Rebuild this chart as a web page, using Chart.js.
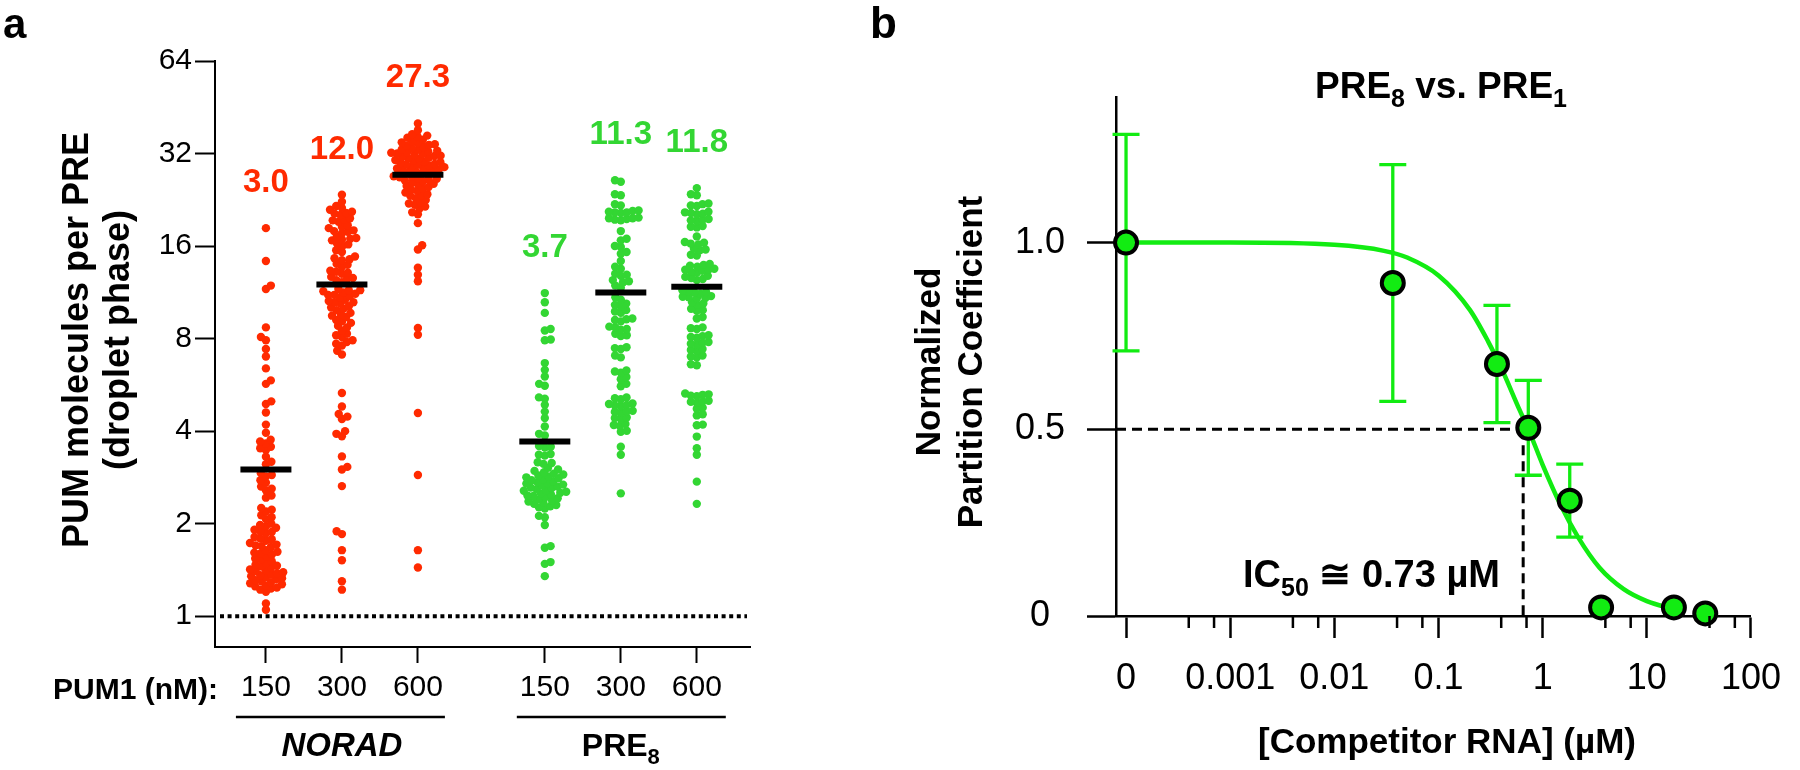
<!DOCTYPE html>
<html><head><meta charset="utf-8">
<script src="https://cdn.jsdelivr.net/npm/chart.js@4.4.1/dist/chart.umd.min.js"></script>
<style>
html,body{margin:0;padding:0;background:#fff;width:1800px;height:770px;overflow:hidden}
#ca{position:absolute;left:0;top:0}
#cb{position:absolute;left:870px;top:0}
</style></head><body>
<canvas id="ca" width="870" height="770"></canvas>
<canvas id="cb" width="930" height="770"></canvas>
<script>
// ---------------- Panel a data ----------------
const groupLabels = ['150','300','600','150','300','600'];
const groupMeans = [3.0, 12.0, 27.3, 3.7, 11.3, 11.8];
const yTicksA = [1, 2, 4, 8, 16, 32, 64];
const norad150 = [18.3,14.3,11.9,11.6,8.7,8.1,7.9,7.4,7.0,6.4,5.85,5.7,5.0,4.9,4.6,4.2,3.95,3.75,3.7,3.65,3.56,3.52,3.47,3.3,3.18,3.12,2.92,2.88,2.85,2.77,2.72,2.64,2.6,2.57,2.47,2.43,2.25,2.22,2.19,2.13,2.1,2.07,2.0,1.98,1.96,1.94,1.91,1.89,1.88,1.86,1.81,1.79,1.78,1.76,1.73,1.71,1.7,1.69,1.68,1.64,1.62,1.61,1.6,1.59,1.56,1.54,1.53,1.51,1.49,1.47,1.46,1.45,1.44,1.42,1.41,1.40,1.39,1.38,1.37,1.36,1.35,1.34,1.33,1.32,1.31,1.3,1.29,1.28,1.27,1.26,1.25,1.24,1.23,1.22,1.2,1.1,1.05];
const norad300 = [23.5,22.3,21.6,21.3,21.0,20.7,20.5,20.4,20.2,19.7,19.5,19.4,19.2,18.7,18.5,18.3,18.0,17.9,17.8,17.6,17.2,17.0,16.9,16.8,16.7,16.3,16.2,16.0,15.5,15.3,14.8,14.6,14.5,14.4,14.0,13.9,13.7,13.3,13.2,13.1,13.0,12.7,12.6,12.5,12.4,12.2,11.6,11.5,11.5,11.4,11.3,11.2,11.1,11.1,11.0,10.9,10.7,10.6,10.5,10.5,10.4,10.2,10.1,10.0,9.9,9.7,9.6,9.5,9.4,9.2,9.1,9.0,8.8,8.7,8.5,8.3,8.2,8.1,7.9,7.8,7.7,7.6,7.3,7.1,5.32,4.81,4.55,4.46,4.38,4.0,3.92,3.85,3.31,3.06,3.0,2.65,1.89,1.85,1.64,1.52,1.3,1.22];
const norad600 = [40.1,38.1,37.0,36.6,36.3,36.0,35.5,35.0,34.8,34.6,34.3,34.1,33.9,33.6,33.3,33.0,32.9,32.7,32.5,32.3,32.2,32.0,31.9,31.7,31.5,31.4,31.2,31.0,30.9,30.8,30.5,30.3,30.1,30.0,29.8,29.6,29.5,29.4,29.2,29.0,28.9,28.8,28.6,28.4,28.3,28.2,28.0,27.9,27.8,27.6,27.0,26.9,26.8,26.6,26.5,26.4,26.2,26.0,25.7,25.5,25.4,25.1,24.9,24.6,24.4,24.2,23.9,23.6,23.4,23.3,22.9,22.6,22.2,22.0,21.8,21.5,21.2,20.6,20.3,19.0,16.1,15.6,13.6,12.9,12.3,8.66,8.23,4.58,2.88,1.64,1.44];
const pre150 = [11.25,10.5,9.7,8.6,8.5,7.95,7.9,6.66,6.33,6.02,5.7,5.62,5.15,5.1,4.87,4.63,4.41,4.14,3.92,3.87,3.58,3.56,3.54,3.37,3.35,3.33,3.17,3.15,3.13,3.04,3.0,2.97,2.94,2.91,2.89,2.87,2.85,2.83,2.81,2.79,2.77,2.75,2.73,2.71,2.70,2.68,2.66,2.64,2.62,2.61,2.59,2.57,2.56,2.54,2.52,2.51,2.49,2.47,2.46,2.44,2.42,2.40,2.38,2.36,2.34,2.32,2.30,2.28,2.26,2.24,2.12,2.1,1.98,1.69,1.67,1.5,1.48,1.35];
const pre300 = [26.2,25.9,23.6,23.4,21.9,21.7,20.9,20.8,20.7,20.6,20.6,20.5,19.8,19.7,19.7,19.6,19.5,19.4,17.9,16.9,16.7,16.0,15.9,15.3,15.1,14.3,13.7,13.5,13.0,12.9,12.8,12.4,12.3,12.2,11.9,11.7,10.9,10.7,10.4,10.3,10.2,9.9,9.8,9.7,9.3,9.25,9.2,9.1,8.75,8.7,8.6,8.55,8.3,8.2,8.15,7.5,7.45,7.4,7.05,6.95,6.3,6.25,6.2,6.0,5.9,5.7,5.6,5.15,5.12,5.08,4.92,4.9,4.87,4.85,4.83,4.66,4.64,4.62,4.6,4.43,4.41,4.39,4.22,4.19,4.16,4.01,3.98,3.56,3.35,2.51];
const pre600 = [24.7,23.6,23.4,22.0,21.9,21.7,21.6,20.7,20.6,20.5,20.4,20.3,19.6,19.5,19.4,19.3,18.6,18.5,18.4,17.2,16.5,16.4,16.3,16.2,15.7,15.6,15.5,15.0,14.9,14.0,13.9,13.8,13.7,13.5,13.4,13.4,13.3,13.2,13.1,12.8,12.7,12.6,12.5,12.4,11.5,11.4,11.35,11.3,11.2,11.0,10.95,10.9,10.85,10.8,10.5,10.4,10.3,10.0,9.9,9.85,9.4,9.3,8.7,8.65,8.6,8.2,8.15,8.1,8.05,7.8,7.75,7.7,7.65,7.4,7.35,7.3,7.05,7.0,6.95,6.6,6.55,5.3,5.27,5.25,5.22,5.2,5.02,5.0,4.98,4.95,4.77,4.73,4.54,4.5,4.2,4.18,3.84,3.52,3.35,2.74,2.32];

// ---------------- Panel b data ----------------
const competitorConc = [0, 0.0364, 0.364, 0.728, 1.82, 3.64, 18.2, 36.4];
const normPartition = [1.0, 0.892, 0.675, 0.504, 0.309, 0.023, 0.023, 0.007];
const sdPartition = [0.29, 0.317, 0.157, 0.127, 0.098, 0, 0, 0];
const fitConc = [0.0001, 0.001, 0.01, 0.03, 0.05, 0.1, 0.2, 0.3, 0.4, 0.6, 0.73, 1.0, 1.5, 2.2, 3.5, 6, 10, 18.2];
const fitValue = [1.0, 1.0, 0.994, 0.978, 0.96, 0.912, 0.82, 0.735, 0.665, 0.552, 0.5, 0.405, 0.295, 0.21, 0.13, 0.072, 0.04, 0.018];
const xTickValsB = [0.0001, 0.001, 0.01, 0.1, 1, 10, 100];
const xTickLabelsB = ['0', '0.001', '0.01', '0.1', '1', '10', '100'];
const yTickValsB = [0, 0.5, 1.0];
const yTickLabelsB = ['0', '0.5', '1.0'];
const ic50Label = '0.73';
const ic50LineX = 0.65;
const zeroPlottedAt = 0.0001;

// ---------------- styles ----------------
const FONT = "'Liberation Sans', Arial, Helvetica, sans-serif";
const RED = '#ff2a00', GREEN = '#33d633', LIME = '#12ec12';
const groups = [norad150, norad300, norad600, pre150, pre300, pre600];
const groupColors = [RED, RED, RED, GREEN, GREEN, GREEN];
const groupPos = groups.map((g, i) => i + (i >= 3 ? 0.67 : 0));

function drawRich(ctx, parts, x, y, size, subSize, subDrop, weight, align) {
  let total = 0;
  parts.forEach(p => { ctx.font = `${weight} ${p.sub ? subSize : size}px ${FONT}`; p.w = ctx.measureText(p.t).width; total += p.w; });
  let cx = align === 'center' ? x - total / 2 : x;
  ctx.textAlign = 'left'; ctx.textBaseline = 'alphabetic';
  parts.forEach(p => {
    ctx.font = `${weight} ${p.sub ? subSize : size}px ${FONT}`;
    ctx.fillText(p.t, cx, p.sub ? y + subDrop : y);
    cx += p.w;
  });
}

// ---------------- Panel a ----------------
const decorA = {
  id: 'decorA',
  afterDatasetsDraw(chart) {
    const {ctx, scales: {x, y}} = chart;
    ctx.save();
    ctx.strokeStyle = '#000'; ctx.lineWidth = 6; ctx.lineCap = 'butt';
    groupMeans.forEach((m, i) => {
      const px = x.getPixelForValue(groupPos[i]), py = y.getPixelForValue(m);
      ctx.beginPath(); ctx.moveTo(px - 25.5, py); ctx.lineTo(px + 25.5, py); ctx.stroke();
    });
    ctx.restore();
  },
  beforeDatasetsDraw(chart) {
    const {ctx, scales: {y}, chartArea} = chart;
    ctx.save();
    const py = y.getPixelForValue(1);
    ctx.strokeStyle = '#000'; ctx.lineWidth = 4; ctx.setLineDash([4, 3.6]);
    ctx.beginPath(); ctx.moveTo(chartArea.left + 5, py); ctx.lineTo(chartArea.right - 3, py); ctx.stroke();
    ctx.restore();
  },
  afterDraw(chart) {
    const {ctx, scales: {x, y}, chartArea} = chart;
    ctx.save();
    ctx.fillStyle = '#000';
    ctx.font = `bold 42px ${FONT}`; ctx.textAlign = 'left'; ctx.textBaseline = 'alphabetic';
    ctx.fillText('a', 3, 38);
    ctx.font = `bold 33px ${FONT}`; ctx.textAlign = 'center';
    groups.forEach((g, i) => {
      const top = y.getPixelForValue(Math.max(...g));
      ctx.fillStyle = groupColors[i];
      ctx.fillText(groupMeans[i].toFixed(1), x.getPixelForValue(groupPos[i]), top - 36);
    });
    ctx.fillStyle = '#000';
    ctx.font = `bold 36px ${FONT}`;
    ctx.save(); ctx.translate(88, 340); ctx.rotate(-Math.PI / 2); ctx.textAlign = 'center';
    ctx.fillText('PUM molecules per PRE', 0, 0); ctx.restore();
    ctx.save(); ctx.translate(129, 340); ctx.rotate(-Math.PI / 2); ctx.textAlign = 'center';
    ctx.fillText('(droplet phase)', 0, 0); ctx.restore();
    ctx.font = `bold 30px ${FONT}`; ctx.textAlign = 'right';
    ctx.fillText('PUM1 (nM):', chartArea.left + 3, 699);
    ctx.strokeStyle = '#000'; ctx.lineWidth = 2.7;
    const g0 = x.getPixelForValue(groupPos[0]), g2 = x.getPixelForValue(groupPos[2]);
    const g3 = x.getPixelForValue(groupPos[3]), g5 = x.getPixelForValue(groupPos[5]);
    ctx.beginPath(); ctx.moveTo(g0 - 30, 717); ctx.lineTo(g2 + 27, 717); ctx.stroke();
    ctx.beginPath(); ctx.moveTo(g3 - 28, 717); ctx.lineTo(g5 + 29, 717); ctx.stroke();
    ctx.font = `italic bold 33px ${FONT}`; ctx.textAlign = 'center';
    ctx.fillText('NORAD', (g0 + g2) / 2, 756);
    drawRich(ctx, [{t: 'PRE'}, {t: '8', sub: true}], (g3 + g5) / 2, 756, 32, 22, 8, 'bold', 'center');
    ctx.restore();
  }
};

const chartA = new Chart(document.getElementById('ca'), {
  type: 'scatter',
  data: {
    datasets: groups.map((g, i) => ({
      data: g.map(v => ({x: groupPos[i], y: v})),
      backgroundColor: groupColors[i], borderWidth: 0,
      pointRadius: 4.2, pointHoverRadius: 4.2, clip: false
    }))
  },
  options: {
    responsive: false, animation: false, events: [],
    layout: {padding: {top: 61, right: 120, left: 0, bottom: 0}},
    plugins: {legend: {display: false}, tooltip: {enabled: false}},
    scales: {
      x: {
        type: 'linear', min: -0.67, max: 6.37,
        afterBuildTicks: s => { s.ticks = groupPos.map(v => ({value: v})); },
        afterFit: s => { s.height = 123; },
        grid: {drawOnChartArea: false, drawTicks: true, tickLength: 16, tickWidth: 2, tickColor: '#000'},
        border: {display: true, color: '#000', width: 2},
        ticks: {color: '#000', font: {family: FONT, size: 30}, padding: 7, maxRotation: 0, autoSkip: false,
          callback: (v, i) => groupLabels[i]}
      },
      y: {
        type: 'logarithmic', min: 0.794, max: 64,
        afterBuildTicks: s => { s.ticks = yTicksA.map(v => ({value: v})); },
        afterFit: s => { s.width = 215; },
        grid: {drawOnChartArea: false, drawTicks: true, tickLength: 20, tickWidth: 2, tickColor: '#000'},
        border: {display: true, color: '#000', width: 2},
        ticks: {color: '#000', font: {family: FONT, size: 30}, padding: 3, autoSkip: false,
          callback: v => String(v)}
      }
    }
  },
  plugins: [decorA]
});

// beeswarm layout computed from the scales
(function swarm(chart) {
  const xs = chart.scales.x, ys = chart.scales.y;
  const D = 6;
  const ppu = xs.getPixelForValue(1) - xs.getPixelForValue(0);
  chart.data.datasets.forEach((ds, i) => {
    const pts = groups[i].map(v => ({v, py: ys.getPixelForValue(v)})).sort((a, b) => b.py - a.py);
    const placed = [];
    pts.forEach((p, k) => {
      const cands = [0];
      placed.forEach(q => {
        const dy = q.py - p.py;
        if (Math.abs(dy) < D) { const dx = Math.sqrt(D * D - dy * dy); cands.push(q.dx + dx, q.dx - dx); }
      });
      cands.sort((a, b) => (Math.abs(a) - Math.abs(b)) || ((k % 2 ? 1 : -1) * (a - b)));
      let best = 0;
      for (const c of cands) {
        if (placed.every(q => { const dy = q.py - p.py, ddx = q.dx - c; return ddx * ddx + dy * dy >= D * D - 0.01; })) { best = c; break; }
      }
      p.dx = best; placed.push(p);
    });
    ds.data = placed.map(p => ({x: groupPos[i] + p.dx / ppu, y: p.v}));
  });
  chart.update('none');
})(chartA);

// ---------------- Panel b ----------------
const decorB = {
  id: 'decorB',
  beforeDatasetsDraw(chart) {
    const {ctx, scales: {x, y}, chartArea} = chart;
    ctx.save();
    ctx.strokeStyle = '#000'; ctx.lineWidth = 3; ctx.setLineDash([10, 6]);
    const px = x.getPixelForValue(ic50LineX), py = y.getPixelForValue(0.5);
    ctx.beginPath(); ctx.moveTo(chartArea.left, py); ctx.lineTo(px, py); ctx.stroke();
    ctx.beginPath(); ctx.moveTo(px, py); ctx.lineTo(px, y.getPixelForValue(0)); ctx.stroke();
    ctx.setLineDash([]);
    ctx.strokeStyle = LIME; ctx.lineWidth = 3.3;
    competitorConc.forEach((c, i) => {
      const sd = sdPartition[i]; if (!sd) return;
      const cx = x.getPixelForValue(c === 0 ? zeroPlottedAt : c);
      const yt = y.getPixelForValue(normPartition[i] + sd), yb = y.getPixelForValue(normPartition[i] - sd);
      ctx.beginPath(); ctx.moveTo(cx, yt); ctx.lineTo(cx, yb);
      ctx.moveTo(cx - 13.5, yt); ctx.lineTo(cx + 13.5, yt);
      ctx.moveTo(cx - 13.5, yb); ctx.lineTo(cx + 13.5, yb); ctx.stroke();
    });
    ctx.restore();
  },
  afterDraw(chart) {
    const {ctx, scales: {x}, chartArea} = chart;
    ctx.save();
    ctx.strokeStyle = '#000'; ctx.lineWidth = 2.5;
    for (let k = 0; k < xTickValsB.length - 1; k++) {
      [4, 7].forEach(f => {
        const px = x.getPixelForValue(xTickValsB[k] * f);
        ctx.beginPath(); ctx.moveTo(px, chartArea.bottom); ctx.lineTo(px, chartArea.bottom + 12); ctx.stroke();
      });
    }
    ctx.fillStyle = '#000';
    ctx.font = `bold 44px ${FONT}`; ctx.textAlign = 'left'; ctx.textBaseline = 'alphabetic';
    ctx.fillText('b', 0, 38);
    drawRich(ctx, [{t: 'PRE'}, {t: '8', sub: true}, {t: ' vs. PRE'}, {t: '1', sub: true}], 445, 98, 37, 25, 9, 'bold', 'left');
    ctx.font = `bold 35px ${FONT}`;
    ctx.save(); ctx.translate(70, 362); ctx.rotate(-Math.PI / 2); ctx.textAlign = 'center';
    ctx.fillText('Normalized', 0, 0); ctx.restore();
    ctx.save(); ctx.translate(112, 362); ctx.rotate(-Math.PI / 2); ctx.textAlign = 'center';
    ctx.fillText('Partition Coefficient', 0, 0); ctx.restore();
    ctx.font = `bold 35px ${FONT}`; ctx.textAlign = 'center';
    ctx.fillText('[Competitor RNA] (\u00B5M)', 577, 753);
    drawRich(ctx, [{t: 'IC'}, {t: '50', sub: true}, {t: ' \u2245 ' + ic50Label + ' \u00B5M'}], 373, 587, 38, 25, 9, 'bold', 'left');
    ctx.restore();
  }
};

const chartB = new Chart(document.getElementById('cb'), {
  type: 'scatter',
  data: {
    datasets: [
      {
        type: 'scatter', order: 1,
        data: competitorConc.map((c, i) => ({x: c === 0 ? zeroPlottedAt : c, y: normPartition[i]})),
        backgroundColor: LIME, borderColor: '#000', borderWidth: 4,
        pointRadius: 11, pointHoverRadius: 11, clip: false
      },
      {
        type: 'line', order: 2,
        data: fitConc.map((c, i) => ({x: c, y: fitValue[i]})),
        borderColor: LIME, borderWidth: 4.5, pointRadius: 0, fill: false,
        cubicInterpolationMode: 'monotone', clip: false
      }
    ]
  },
  options: {
    responsive: false, animation: false, events: [],
    layout: {padding: {top: 97, right: 33, left: 0, bottom: 0}},
    plugins: {legend: {display: false}, tooltip: {enabled: false}},
    scales: {
      x: {
        type: 'logarithmic', min: 0.0000801, max: 100,
        afterBuildTicks: s => { s.ticks = xTickValsB.map(v => ({value: v})); },
        afterFit: s => { s.height = 154; },
        grid: {drawOnChartArea: false, drawTicks: true, tickLength: 22, tickWidth: 2.5, tickColor: '#000'},
        border: {display: true, color: '#000', width: 2.5},
        ticks: {color: '#000', font: {family: FONT, size: 36}, padding: 19, maxRotation: 0, autoSkip: false,
          callback: (v, i) => xTickLabelsB[i]}
      },
      y: {
        type: 'linear', min: 0, max: 1.39,
        afterBuildTicks: s => { s.ticks = yTickValsB.map(v => ({value: v})); },
        afterFit: s => { s.width = 246; },
        grid: {drawOnChartArea: false, drawTicks: true, tickLength: 29, tickWidth: 2.5, tickColor: '#000'},
        border: {display: true, color: '#000', width: 2.5},
        ticks: {color: '#000', font: {family: FONT, size: 36}, padding: 22, crossAlign: 'center', autoSkip: false,
          callback: (v, i) => yTickLabelsB[i]}
      }
    }
  },
  plugins: [decorB]
});
</script>
</body></html>
